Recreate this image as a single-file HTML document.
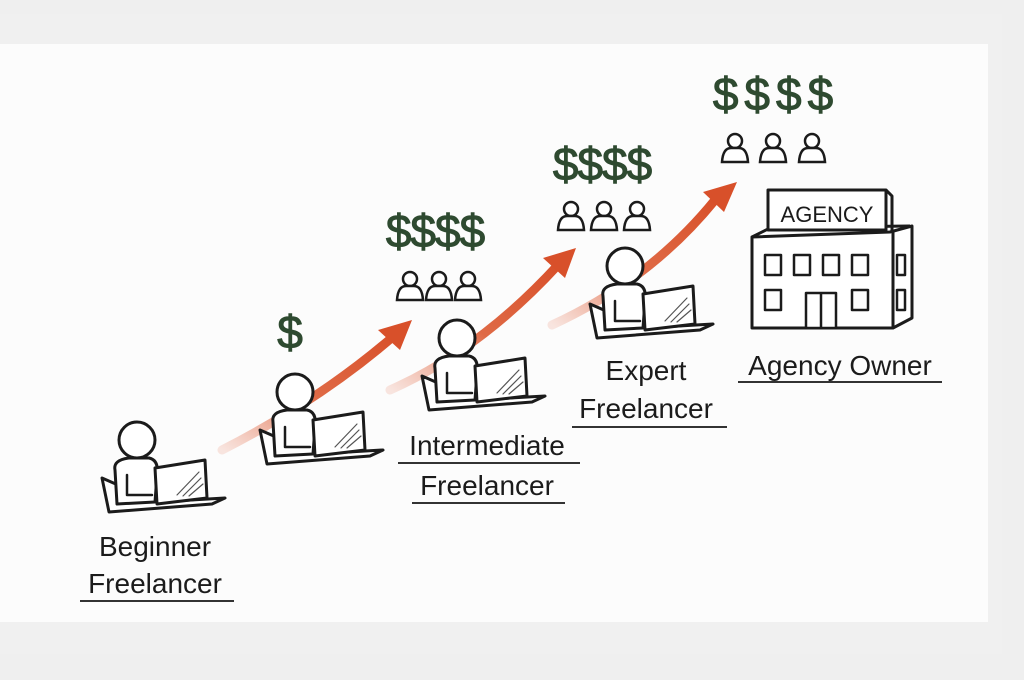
<!DOCTYPE html>
<html><head><style>
body{margin:0;background:#efefef;}
svg{display:block}
text{font-family:"Liberation Sans",sans-serif;}
</style></head><body>
<svg width="1024" height="680" viewBox="0 0 1024 680" xmlns="http://www.w3.org/2000/svg">
<defs>
<linearGradient id="ag" x1="0" y1="1" x2="1" y2="0">
<stop offset="0" stop-color="#e9876a" stop-opacity="0.2"/>
<stop offset="0.5" stop-color="#dc5a32" stop-opacity="0.9"/>
<stop offset="1" stop-color="#d8502a"/>
</linearGradient>
<g id="fig" fill="#fff" stroke="#1b1b1b" stroke-width="3" stroke-linejoin="round" stroke-linecap="round">
<path d="M-35,38 L-28,72 L75,64 L88,58 L20,62 Z"/>
<path d="M-22,30 Q-24,20 -8,18 L12,18 Q22,20 20,35 L18,62 L-20,64 Z"/>
<path d="M-10,35 L-10,55 L15,55" fill="none" stroke-width="2.5"/>
<path d="M18,28 L68,20 L70,58 L20,64 Z"/>
<path d="M40,55 L62,32 M46,56 L64,38 M52,56 L66,44" stroke-width="1.2" stroke="#555"/>
<circle cx="0" cy="0" r="18"/>
</g>
<g id="p" fill="#fff" stroke="#1b1b1b" stroke-width="2.5">
<circle cx="0" cy="-9" r="7"/>
<path d="M-13,12 Q-12,-2 -4,-2 L4,-2 Q12,-2 13,12 Z"/>
</g>
</defs>
<rect x="0" y="14" width="1002" height="640" fill="#fcfcfc"/>
<rect x="0" y="14" width="1002" height="30" fill="#f0f0f0"/>
<rect x="0" y="622" width="1002" height="32" fill="#f0f0f0"/>
<rect x="988" y="14" width="14" height="640" fill="#f0f0f0"/>

<g stroke="url(#ag)" stroke-width="9" fill="none" stroke-linecap="round">
<path d="M222,450 Q320,400 395,335"/>
<path d="M390,390 Q480,350 558,265"/>
<path d="M552,325 Q650,280 715,200"/>
</g>
<g fill="#d8502a">
<path d="M412,320 L378,330 L400,350 Z"/>
<path d="M576,248 L543,258 L565,278 Z"/>
<path d="M737,182 L703,192 L724,212 Z"/>
</g>

<use href="#fig" transform="translate(137,440)"/>
<use href="#fig" transform="translate(295,392)"/>
<use href="#fig" transform="translate(457,338)"/>
<use href="#fig" transform="translate(625,266)"/>

<g fill="#2e4a30" stroke="#2e4a30" stroke-width="1" font-size="46" text-anchor="middle">
<text x="290" y="348">$</text>
<text x="435" y="247" letter-spacing="-1">$$$$</text>
<text x="602" y="180" letter-spacing="-1">$$$$</text>
<text x="776" y="110" letter-spacing="6">$$$$</text>
</g>
<use href="#p" transform="translate(410,288)"/><use href="#p" transform="translate(439,288)"/><use href="#p" transform="translate(468,288)"/>
<use href="#p" transform="translate(571,218)"/><use href="#p" transform="translate(604,218)"/><use href="#p" transform="translate(637,218)"/>
<use href="#p" transform="translate(735,150)"/><use href="#p" transform="translate(773,150)"/><use href="#p" transform="translate(812,150)"/>

<g stroke="#1b1b1b" stroke-width="3" fill="#fff" stroke-linejoin="round">
<path d="M752,237 L890,232 L912,226 L912,318 L893,328 L752,328 Z"/>
<path d="M893,232 L893,328 M752,237 L770,228 L910,226" fill="none"/>
<rect x="768" y="190" width="118" height="40"/>
<path d="M886,190 L892,196 L892,232" fill="none"/>
<g stroke-width="2.5">
<rect x="765" y="255" width="16" height="20"/><rect x="794" y="255" width="16" height="20"/><rect x="823" y="255" width="16" height="20"/><rect x="852" y="255" width="16" height="20"/>
<rect x="765" y="290" width="16" height="20"/><rect x="852" y="290" width="16" height="20"/>
<rect x="806" y="293" width="30" height="35"/><path d="M821,293 L821,328" fill="none"/>
<rect x="897" y="255" width="8" height="20"/><rect x="897" y="290" width="8" height="20"/>
</g>
</g>
<text x="827" y="222" font-size="22" text-anchor="middle" fill="#1b1b1b">AGENCY</text>

<g fill="#1b1b1b" font-size="28" text-anchor="middle">
<text x="155" y="556">Beginner</text>
<text x="155" y="593">Freelancer</text>
<text x="487" y="455">Intermediate</text>
<text x="487" y="495">Freelancer</text>
<text x="646" y="380">Expert</text>
<text x="646" y="418">Freelancer</text>
<text x="840" y="375">Agency Owner</text>
</g>
<g stroke="#333" stroke-width="2">
<line x1="80" y1="601" x2="234" y2="601"/>
<line x1="398" y1="463" x2="580" y2="463"/>
<line x1="412" y1="503" x2="565" y2="503"/>
<line x1="572" y1="427" x2="727" y2="427"/>
<line x1="738" y1="382" x2="942" y2="382"/>
</g>
</svg>
</body></html>
